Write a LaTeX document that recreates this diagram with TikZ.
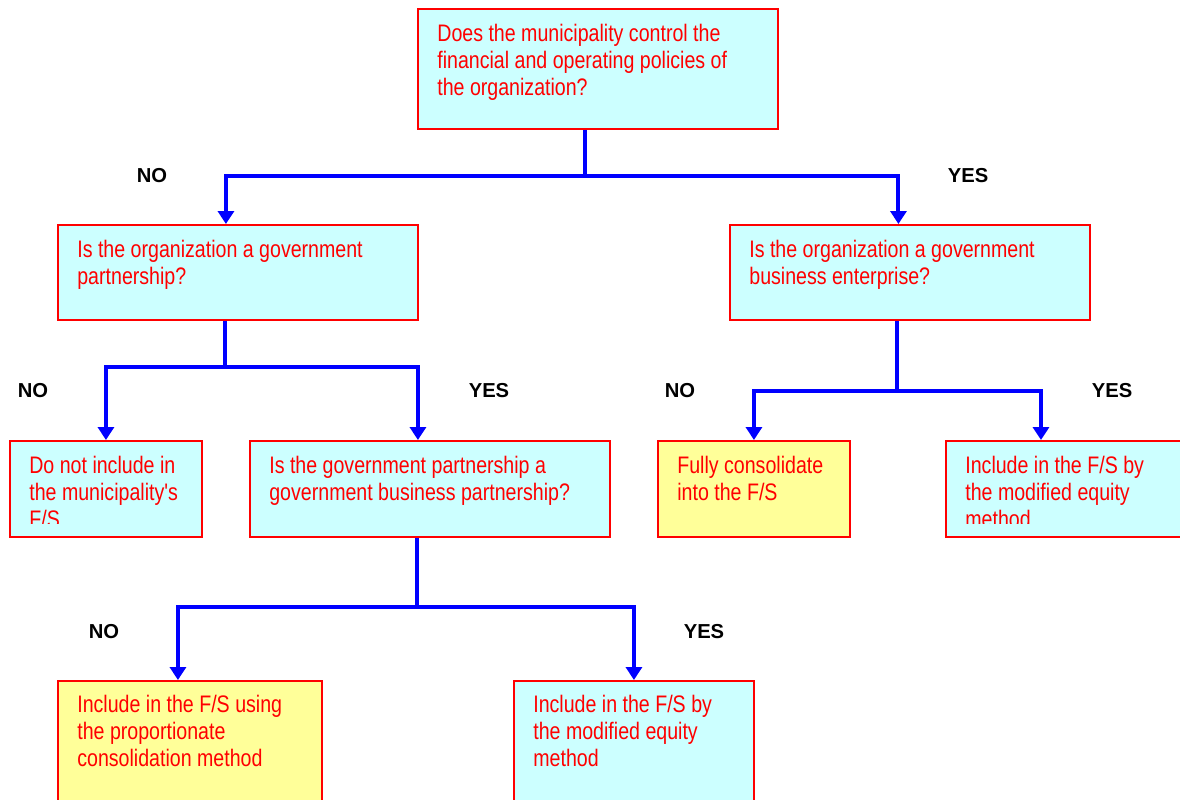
\documentclass[tikz,border=0pt]{standalone}
\usepackage{fontspec}
\setmainfont{Liberation Sans}
\newfontfamily\narrowfont{Liberation Sans}[FakeStretch=0.82]
\usetikzlibrary{arrows.meta,positioning}

\definecolor{boxcyan}{HTML}{CCFFFF}
\definecolor{boxyellow}{HTML}{FFFF99}
\definecolor{boxred}{HTML}{FF0000}
\definecolor{flowblue}{HTML}{0000FF}

\begin{document}
\begin{tikzpicture}[x=0.02cm, y=-0.02cm,
    box/.style={draw=boxred, line width=1.1pt, fill=boxcyan, anchor=north west, inner sep=0pt},
    endbox/.style={box, fill=boxyellow},
    txt/.style={text=boxred, font=\narrowfont\fontsize{13.6}{15.3}\selectfont, align=left, anchor=north west, inner sep=0pt},
    lbl/.style={font=\bfseries\fontsize{11.5}{13}\selectfont, inner sep=0pt},
    link/.style={draw=flowblue, line width=2.3pt},
    flow/.style={link, -{Triangle[width=0.32cm, length=0.26cm]}}]

    % page frame
    \useasboundingbox (0,0) rectangle (1180,799);
    \clip (0,0) rectangle (1180,799);

    % Question boxes
    \node[box, minimum width=7.2cm, minimum height=2.4cm] (q1) at (417,8) {};
    \node[txt] at ([shift={(20,16)}]q1.north west) {Does the municipality control the\\financial and operating policies of\\the organization?};

    \node[box, minimum width=7.2cm, minimum height=1.9cm] (q2) at (57,224) {};
    \node[txt] at ([shift={(20,16)}]q2.north west) {Is the organization a government\\partnership?};

    \node[box, minimum width=7.2cm, minimum height=1.9cm] (q4) at (729,224) {};
    \node[txt] at ([shift={(20,16)}]q4.north west) {Is the organization a government\\business enterprise?};

    \node[box, minimum width=7.2cm, minimum height=1.92cm] (q3) at (249,440) {};
    \node[txt] at ([shift={(20,16)}]q3.north west) {Is the government partnership a\\government business partnership?};

    % Outcome boxes (text frame cut at the bottom)
    \node[box, minimum width=3.84cm, minimum height=1.92cm] (dni) at (9,440) {};
    \begin{scope}
        \clip (dni.north west) rectangle ([yshift=0.28cm]dni.south east);
        \node[txt] at ([shift={(20,16)}]dni.north west) {Do not include in\\the municipality's\\F/S};
    \end{scope}

    \node[endbox, minimum width=3.84cm, minimum height=1.92cm] (fc) at (657,440) {};
    \node[txt] at ([shift={(20,16)}]fc.north west) {Fully consolidate\\into the F/S};

    \node[box, minimum width=5cm, minimum height=1.92cm] (me1) at (945,440) {};
    \begin{scope}
        \clip (me1.north west) rectangle ([yshift=0.28cm]me1.south east);
        \node[txt] at ([shift={(20,16)}]me1.north west) {Include in the F/S by\\the modified equity\\method};
    \end{scope}

    \node[endbox, minimum width=5.28cm, minimum height=2.6cm] (pc) at (57,680) {};
    \node[txt] at ([shift={(20,15)}]pc.north west) {Include in the F/S using\\the proportionate\\consolidation method};

    \node[box, minimum width=4.8cm, minimum height=2.6cm] (me2) at (513,680) {};
    \node[txt] at ([shift={(20,15)}]me2.north west) {Include in the F/S by\\the modified equity\\method};

    % Junctions
    \coordinate (j1) at (585,176);
    \coordinate (j2) at (225,367);
    \coordinate (j3) at (897,391);
    \coordinate (j4) at (417,607);

    % Connectors
    \draw[link] (q1.south -| j1) -- (j1);
    \draw[flow] (j1) -| ([xshift=-0.24cm]q2.north);
    \draw[flow] (j1) -| ([xshift=-0.23cm]q4.north);

    \draw[link] (q2.south -| j2) -- (j2);
    \draw[flow] (j2) -| (dni.north);
    \draw[flow] (j2) -| ([xshift=-0.24cm]q3.north);

    \draw[link] (q4.south -| j3) -- (j3);
    \draw[flow] (j3) -| (fc.north);
    \draw[flow] (j3) -| ([xshift=1.92cm]me1.north west);

    \draw[link] (q3.south -| j4) -- (j4);
    \draw[flow] (j4) -| ([xshift=-0.24cm]pc.north);
    \draw[flow] (j4) -| (me2.north);

    % Answer labels
    \node[lbl] (no1) at (152,176) {NO};
    \node[lbl] (yes1) at (968,176) {YES};
    \node[lbl] (no2) at (33,391) {NO};
    \node[lbl] (yes2) at (489,391) {YES};
    \node[lbl] (no3) at (680,391) {NO};
    \node[lbl] (yes3) at (1112,391) {YES};
    \node[lbl] (no4) at (104,632) {NO};
    \node[lbl] (yes4) at (704,632) {YES};
\end{tikzpicture}
\end{document}
